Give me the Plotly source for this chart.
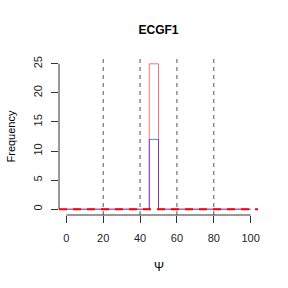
import plotly.graph_objects as go

# Data
bin_edges = list(range(0, 105, 5))
red_counts = [0]*9 + [25] + [0]*10   # bins 0-5 ... 95-100
blue_counts = [0]*9 + [12] + [0]*10
vlines = [20, 40, 60, 80]
x_ticks = [0, 20, 40, 60, 80, 100]
y_ticks = [0, 5, 10, 15, 20, 25]
title = "ECGF1"
x_label = "Ψ"
y_label = "Frequency"

font = "Liberation Sans, Arial, sans-serif"

fig = go.Figure()
# step outlines of the histograms (R-style rects)
fig.add_trace(go.Scatter(x=bin_edges, y=red_counts + [red_counts[-1]], mode="lines",
                         line=dict(color="rgba(255,0,0,0.55)", width=1, shape="hv"),
                         showlegend=False, hoverinfo="skip"))
fig.add_trace(go.Scatter(x=bin_edges, y=blue_counts + [blue_counts[-1]], mode="lines",
                         line=dict(color="rgba(0,0,255,0.55)", width=1, shape="hv"),
                         showlegend=False, hoverinfo="skip"))

shapes = []
for v in vlines:
    shapes.append(dict(type="line", xref="x", yref="paper", x0=v, x1=v, y0=0, y1=1,
                       line=dict(color="#555555", width=1, dash="4px,4px"), layer="above"))
shapes.append(dict(type="line", xref="paper", yref="y", x0=0, x1=1, y0=0, y1=0,
                   line=dict(color="#ff0000", width=2, dash="8px,6px"), layer="above"))
# R-style axis lines spanning the tick range
shapes.append(dict(type="line", xref="x", yref="paper", x0=x_ticks[0], x1=x_ticks[-1], y0=0, y1=0,
                   line=dict(color="#333333", width=1)))
shapes.append(dict(type="line", xref="paper", yref="y", x0=0, x1=0, y0=y_ticks[0], y1=y_ticks[-1],
                   line=dict(color="#333333", width=1)))

fig.update_layout(
    width=288, height=288,
    margin=dict(l=59, r=30, t=58, b=73),
    paper_bgcolor="white", plot_bgcolor="white",
    font=dict(family=font, size=11, color="#222222"),
    shapes=shapes,
    title=dict(text="<b>" + title + "</b>", x=0.5, xref="paper", y=1 - 30/288, yref="container",
               xanchor="center", yanchor="middle", font=dict(size=12, color="black")),
    xaxis=dict(range=[-4, 104], tickvals=x_ticks, ticks="outside", ticklen=7, tickcolor="#333333",
               ticklabelstandoff=6,
               showline=False, showgrid=False, zeroline=False, fixedrange=True),
    yaxis=dict(range=[-1, 26], tickvals=y_ticks, ticks="outside", ticklen=7, tickcolor="#333333",
               ticklabelstandoff=5,
               tickangle=-90, showline=False, showgrid=False, zeroline=False),
    annotations=[
        dict(text=x_label, xref="paper", yref="paper", x=0.5, y=0, yshift=-52,
             showarrow=False, xanchor="center", yanchor="middle", font=dict(size=12, color="black")),
        dict(text=y_label, xref="paper", yref="paper", x=0, y=0.5, xshift=-49, textangle=-90,
             showarrow=False, xanchor="center", yanchor="middle", font=dict(size=11, color="black")),
    ],
)

fig.write_html("out.html")
